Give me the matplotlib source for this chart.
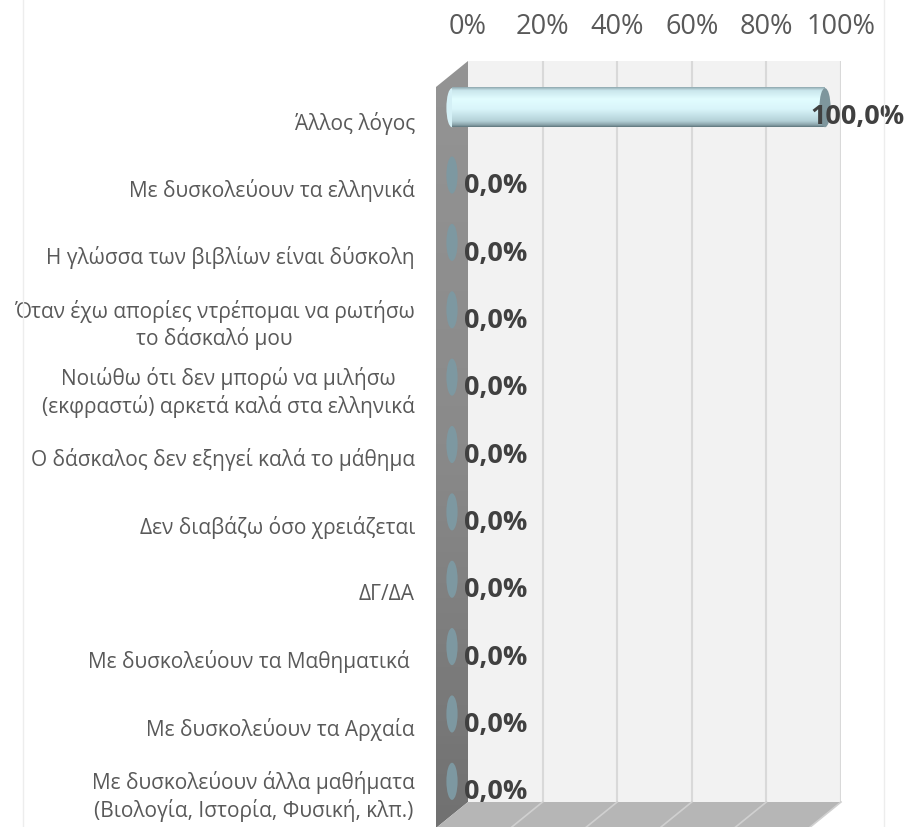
import numpy as np
import matplotlib
matplotlib.use("Agg")
import matplotlib.pyplot as plt
from matplotlib.patches import Polygon, Ellipse
from matplotlib.colors import LinearSegmentedColormap
from matplotlib.lines import Line2D

plt.rcParams['font.family'] = ['Open Sans', 'DejaVu Sans']

# data (top row first)
categories = [
    "Άλλος λόγος",
    "Με δυσκολεύουν τα ελληνικά",
    "Η γλώσσα των βιβλίων είναι δύσκολη",
    "Όταν έχω απορίες ντρέπομαι να ρωτήσω\nτο δάσκαλό μου",
    "Νοιώθω ότι δεν μπορώ να μιλήσω\n(εκφραστώ) αρκετά καλά στα ελληνικά",
    "Ο δάσκαλος δεν εξηγεί καλά το μάθημα",
    "Δεν διαβάζω όσο χρειάζεται",
    "ΔΓ/ΔΑ",
    "Με δυσκολεύουν τα Μαθηματικά ",
    "Με δυσκολεύουν τα Αρχαία",
    "Με δυσκολεύουν άλλα μαθήματα\n(Βιολογία, Ιστορία, Φυσική, κλπ.)",
]
values = [100.0, 0.0, 0.0, 0.0, 0.0, 0.0, 0.0, 0.0, 0.0, 0.0, 0.0]
xticks = [0, 20, 40, 60, 80, 100]

# 3d look: depth of the box in data units (x: percent, y: rows)
DEPTH_X = 8.58
DEPTH_Y = 0.386
BAR_DX = -DEPTH_X / 2
BAR_DY = DEPTH_Y / 2
BAR_H = 0.58
CAP_W = 3.0

fig = plt.figure(figsize=(9.09, 8.28), dpi=100)
ax = fig.add_axes([468 / 909, 1 - 803 / 828, 373 / 909, 741 / 828])
ax.set_facecolor('#F2F2F2')
n = len(categories)

# side wall (shaded) and floor
side = Polygon([(0, -0.5), (0, n - 0.5), (-DEPTH_X, n - 0.5 + DEPTH_Y), (-DEPTH_X, -0.5 + DEPTH_Y)],
               closed=True, facecolor='none', edgecolor='none', zorder=1)
ax.add_patch(side)
wall_cmap = LinearSegmentedColormap.from_list('wall', ['#949494', '#8A8A8A', '#717171'])
wall = ax.imshow(np.linspace(0, 1, 100).reshape(-1, 1), cmap=wall_cmap, aspect='auto',
                 extent=(-DEPTH_X, 0, n - 0.5 + DEPTH_Y, -0.5), zorder=1)
wall.set_clip_on(True)
wall.set_clip_box(fig.bbox)
wall.set_clip_path(side)
floor = Polygon([(0, n - 0.5), (100, n - 0.5), (100 - DEPTH_X, n - 0.5 + DEPTH_Y), (-DEPTH_X, n - 0.5 + DEPTH_Y)],
                closed=True, facecolor='#B6B6B6', edgecolor='none', clip_on=False, zorder=1)
ax.add_patch(floor)
for t in xticks[1:]:
    ax.axvline(t, color='#D9D9D9', lw=1.5, zorder=0.5)
    ax.add_line(Line2D([t, t - DEPTH_X], [n - 0.5, n - 0.5 + DEPTH_Y], color='#D0D0D0', lw=1.2,
                       clip_on=False, zorder=1.5))

# cylinder gradient
cyl = LinearSegmentedColormap.from_list('cyl', [
    (0.0, '#8FA8AF'), (0.08, '#C9E6EC'), (0.3, '#E2FDFF'), (0.55, '#D9F5FA'),
    (0.85, '#B4D1D8'), (0.95, '#8AA3AA'), (1.0, '#5E767D')])
grad = np.linspace(0, 1, 200).reshape(-1, 1)

for i, v in enumerate(values):
    yc = i + BAR_DY
    x0 = BAR_DX
    lbl = f"{v:.1f}%".replace('.', ',')
    if v > 0:
        x1 = v + BAR_DX
        ax.imshow(grad, cmap=cyl, aspect='auto', extent=(x0, x1, yc + BAR_H / 2, yc - BAR_H / 2),
                  zorder=3, clip_on=False, interpolation='bilinear')
        ax.add_patch(Ellipse((x0, yc), CAP_W, BAR_H, facecolor='#D4F0F6', edgecolor='none',
                             zorder=2.9, clip_on=False))
        ax.add_patch(Ellipse((x1, yc), CAP_W, BAR_H, facecolor='#7E969D', edgecolor='none',
                             zorder=3.1, clip_on=False))
        ax.text(x1 - 4, yc + 0.13, lbl, ha='left', va='center',
                fontsize=19.5, fontweight='bold', color='#404040', zorder=5, clip_on=False)
    else:
        ax.add_patch(Ellipse((x0, yc), CAP_W, BAR_H * 0.95, facecolor='#7D98A1', edgecolor='none',
                             zorder=3.1, clip_on=False))
        ax.text(x0 + 3.2, yc + 0.15, lbl, ha='left', va='center',
                fontsize=19.5, fontweight='bold', color='#404040', zorder=5, clip_on=False)

# category labels
for i, lab in enumerate(categories):
    ax.text(-14.2, i + DEPTH_Y + 0.02, lab, ha='right', va='center', multialignment='center',
            fontsize=15, color='#595959', linespacing=1.25, clip_on=False)

ax.set_xlim(0, 100)
ax.set_ylim(n - 0.5, -0.5)
ax.set_yticks([])
ax.xaxis.tick_top()
ax.set_xticks(xticks)
ax.set_xticklabels([f"{t}%" for t in xticks], fontsize=19.5, color='#595959')
ax.tick_params(axis='x', length=0, pad=15)
for s in ax.spines.values():
    s.set_visible(False)

# chart area border
fig.add_artist(Line2D([23 / 909, 23 / 909], [0, 1], color='#EDEDED', lw=1))
fig.add_artist(Line2D([884 / 909, 884 / 909], [0, 1], color='#EDEDED', lw=1))

fig.savefig('out.png', dpi=100)
